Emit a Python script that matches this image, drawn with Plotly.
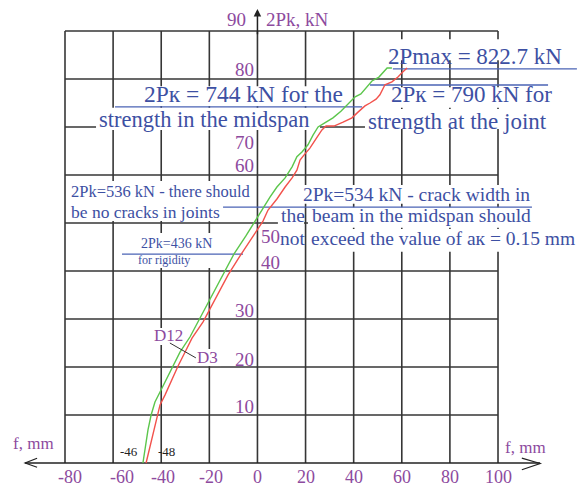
import plotly.graph_objects as go

# deflection f (mm) against load 2Pk (axis units) for gauges D12 and D3
d12_f = [-47.6, -45.5, -44.2, -42.6, -40.5, -38.0, -35.5, -32.2, -28.0, -23.9,
         -19.7, -14.7, -9.8, -4.8, -1.0, 2.3, 5.2, 8.1, 11.5, 14.4,
         16.4, 18.5, 21.0, 23.1, 25.2, 28.5, 31.4, 34.7, 37.6, 40.6,
         43.0, 45.1, 47.6, 50.5, 53.9, 55.9]
d12_p = [0, 6.9, 10.0, 12.7, 14.8, 17.3, 20.0, 23.1, 26.3, 30.2,
         34.2, 39.0, 43.5, 47.3, 50.4, 53.3, 55.4, 57.5, 59.4, 61.7,
         63.8, 64.8, 66.3, 68.3, 70.0, 71.0, 71.9, 73.3, 74.8, 76.3,
         76.9, 78.1, 79.6, 80.4, 82.3, 82.3]

d3_f = [-46.3, -44.3, -42.2, -40.5, -38.4, -35.5, -33.0, -29.7, -27.2, -22.6,
        -17.6, -12.2, -7.3, -3.5, -0.2, 2.3, 4.4, 8.1, 11.5, 14.4,
        16.4, 17.7, 19.4, 21.8, 24.8, 26.8, 28.5, 31.8, 35.6, 39.3,
        41.8, 44.7, 46.8, 49.3, 50.9, 53.0, 55.9, 58.4, 60.5, 62.2]
d3_p = [0, 4.2, 9.0, 12.1, 14.2, 17.5, 20.2, 23.5, 26.0, 29.4,
        34.2, 39.2, 43.1, 46.0, 48.5, 50.4, 52.7, 55.0, 57.5, 59.4,
        61.0, 63.1, 64.2, 65.6, 67.9, 69.4, 70.2, 70.2, 71.0, 71.9,
        73.1, 74.4, 75.0, 75.8, 76.7, 78.8, 79.4, 80.4, 81.5, 82.3]

x_ticks = [-80, -60, -40, -20, 0, 20, 40, 60, 80, 100]
y_ticks = [10, 20, 30, 40, 50, 60, 70, 80, 90]
# where the y labels sit in the scan (some are off their lines) and on which side of the axis
y_label_at = [11.7, 21.5, 31.7, 41.7, 47.1, 61.9, 66.8, 81.9, 92.3]
y_label_side = ["l", "l", "l", "r", "r", "l", "l", "l", "l"]
x_label_shift = {-80: 2.1, -60: 3.8, -40: 0.8, -20: 0.6}

BLUE = "#3d50a3"
PURPLE = "#8d4a9e"
GRID = "#363636"
SERIF = "Liberation Serif"

fig = go.Figure()
fig.add_trace(go.Scatter(x=d12_f, y=d12_p, mode="lines", name="D12",
                         line=dict(color="#5cc64c", width=1.4)))
fig.add_trace(go.Scatter(x=d3_f, y=d3_p, mode="lines", name="D3",
                         line=dict(color="#f2524c", width=1.4)))

shapes = []
for x in x_ticks:
    shapes.append(dict(type="line", x0=x, x1=x, y0=0, y1=90, layer="below",
                       line=dict(color=GRID, width=1.6)))
for y in y_ticks:
    shapes.append(dict(type="line", x0=-80, x1=100, y0=y, y1=y, layer="below",
                       line=dict(color=GRID, width=1.6)))

# f axis, open arrow heads at both ends
shapes.append(dict(type="line", x0=-96.6, x1=117.5, y0=0, y1=0, layer="below",
                   line=dict(color="#222222", width=1.4)))
shapes.append(dict(type="path", path="M -91.6,1.0 L -96.6,0 L -91.6,-0.9", layer="below",
                   line=dict(color="#222222", width=1.2)))
shapes.append(dict(type="path", path="M 109.9,1.0 L 117.5,-0.1 L 109.9,-1.4", layer="below",
                   line=dict(color="#222222", width=1.2)))

# white patches behind the notes (they cut the grid in the scan)
text_boxes = [
    (53.0, 128.2, 83.9, 88.3),
    (54.3, 123.7, 74.0, 78.3),
    (44.7, 121.6, 69.6, 73.75),
    (-48.4, 36.4, 74.4, 78.5),
    (-67.1, 26.0, 69.4, 74.0),
    (-78.75, -1.4, 54.6, 58.75),
    (-78.75, -7.2, 50.4, 54.6),
    (17.3, 114.1, 54.0, 57.9),
    (8.5, 19.35, 49.4, 53.3),
    (21.0, 114.1, 49.0, 53.3),
    (8.5, 19.35, 44.2, 48.75),
    (21.0, 132.4, 44.0, 48.75),
    (-52.1, -13.1, 40.6, 47.9),
    (-43.4, -29.7, 24.6, 28.1),
    (-26.0, -15.15, 20.2, 23.75),
]
for x0, x1, y0, y1 in text_boxes:
    shapes.append(dict(type="rect", x0=x0, x1=x1, y0=y0, y1=y1, layer="below",
                       fillcolor="white", line=dict(width=0)))

underlines = [
    (56.3, 132.8, 82.1),
    (46.8, 120.8, 78.75),
    (-59.2, 43.5, 74.2),
    (-14.3, 114.1, 53.3),
    (-56.3, -6.0, 43.5),
]
for x0, x1, y in underlines:
    shapes.append(dict(type="line", x0=x0, x1=x1, y0=y, y1=y, layer="below",
                       line=dict(color="#4a63b5", width=1.3)))

# leader between the two gauge labels
shapes.append(dict(type="line", x0=-36.4, y0=25.0, x1=-25.6, y1=21.9,
                   line=dict(color="#333333", width=1)))

annotations = []


def note(text, x, y, size, color=BLUE, xanchor="left"):
    annotations.append(dict(text=text, x=x, y=y, xref="x", yref="y", showarrow=False,
                            xanchor=xanchor, yanchor="middle", borderpad=0,
                            font=dict(family=SERIF, size=size, color=color)))


for v in x_ticks:
    note(str(v), v + x_label_shift.get(v, 0), -2.9, 18, PURPLE, "center")
for v, at, side in zip(y_ticks, y_label_at, y_label_side):
    if side == "l":
        note(str(v), -4.3 if v == 90 else -1.0, at, 19, PURPLE, "right")
    else:
        note(str(v), 1.1, at, 19, PURPLE, "left")

note("2Pk, kN", 3.1, 92.3, 19, PURPLE)
note("f, mm", -92.9, 4.0, 17, PURPLE, "center")
note("f, mm", 111.6, 3.3, 17, PURPLE, "center")
note("D12", -36.8, 26.5, 17, PURPLE, "center")
note("D3", -20.6, 21.9, 17, PURPLE, "center")
note("-46", -53.4, 2.3, 13, "#222222", "center")
note("-48", -38.0, 2.3, 13, "#222222", "center")

note("2Pmax = 822.7 kN", 53.9, 84.7, 23)
note("2Pк = 790 kN for", 55.1, 76.67, 23)
note("strength at the joint", 45.5, 71.25, 23)
note("2Pк = 744 kN for the", -47.6, 76.87, 23.5)
note("strength in the midspan", -66.3, 71.56, 22.5)
note("2Pk=536 kN - there should", -77.9, 56.5, 16.5)
note("be no cracks in joints", -77.9, 52.3, 17.5)
note("2Pk=534 kN - crack width in", 18.5, 56.0, 19.5)
note("the", 9.4, 51.5, 19.5)
note("beam in the midspan should", 22.3, 51.5, 19.5)
note("not", 9.0, 46.7, 19.5)
note("exceed the value of aк = 0.15 mm", 21.85, 46.7, 19.5)
note("2Pk=436 kN", -48.8, 45.8, 14)
note("for rigidity", -50.1, 42.3, 12)

# load axis with its arrow head above the grid
annotations.append(dict(x=0, y=94.6, ax=0, ay=89, xref="x", yref="y", axref="x", ayref="y",
                        text="", showarrow=True, arrowhead=2, arrowsize=1,
                        arrowwidth=1.5, arrowcolor="#222222"))

fig.update_layout(
    width=583, height=488,
    margin=dict(l=0, r=0, t=0, b=0),
    paper_bgcolor="white", plot_bgcolor="white",
    showlegend=False,
    shapes=shapes, annotations=annotations,
    xaxis=dict(range=[-107.02, 135.33], visible=False, fixedrange=True),
    yaxis=dict(range=[-5.21, 96.46], visible=False, fixedrange=True),
)

fig.write_html("out.html", config={"displayModeBar": False},
               post_script="document.body.style.margin='0';")
